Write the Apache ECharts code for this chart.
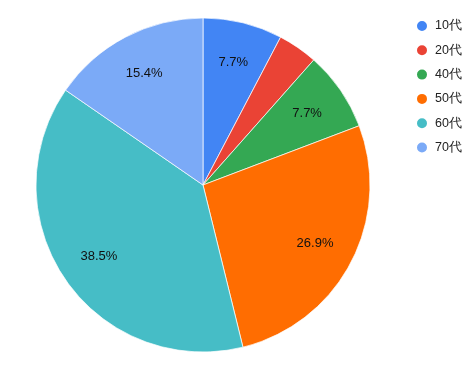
<!DOCTYPE html>
<html><head><meta charset="utf-8">
<script src="https://cdn.jsdelivr.net/npm/echarts@6/dist/echarts.min.js"></script>
<style>html,body{margin:0;padding:0;background:#fff}#c{width:474px;height:371px}</style>
</head><body><div id="c"></div>
<script>
var categories = ['10代', '20代', '40代', '50代', '60代', '70代'];
var values = [2, 1, 2, 7, 10, 4];
var colors = ['#4285F4', '#EA4335', '#34A853', '#FF6D01', '#46BDC6', '#7BAAF7'];

var data = categories.map(function (c, i) { return { name: c, value: values[i] }; });
var chart = echarts.init(document.getElementById('c'));
chart.setOption({
  animation: false,
  color: colors,
  legend: {
    orient: 'vertical', left: 410, top: 14,
    icon: 'circle', itemWidth: 12, itemHeight: 12, itemGap: 10.3,
    textStyle: { fontFamily: 'Liberation Sans, Arial, sans-serif', fontSize: 12.5, color: '#222', lineHeight: 12, padding: [0, 0, 0, 2] },
    data: categories
  },
  series: [{
    type: 'pie', center: [203, 185], radius: [0, 167], startAngle: 90, clockwise: true,
    percentPrecision: 1,
    itemStyle: { borderColor: '#fff', borderWidth: 0.7 },
    label: { show: false }, labelLine: { show: false },
    emphasis: { disabled: true },
    data: data
  }, {
    type: 'pie', center: [203, 185], radius: [80, 167], startAngle: 90, clockwise: true,
    percentPrecision: 1, silent: true, legendHoverLink: false,
    itemStyle: { color: 'transparent', borderWidth: 0 },
    label: {
      show: true, position: 'inside', color: '#111',
      fontFamily: 'Liberation Sans, Arial, sans-serif', fontSize: 13,
      formatter: function (p) { return p.percent >= 5 ? p.percent.toFixed(1) + '%' : ''; }
    },
    labelLine: { show: false },
    emphasis: { disabled: true },
    data: data
  }]
});
</script></body></html>
